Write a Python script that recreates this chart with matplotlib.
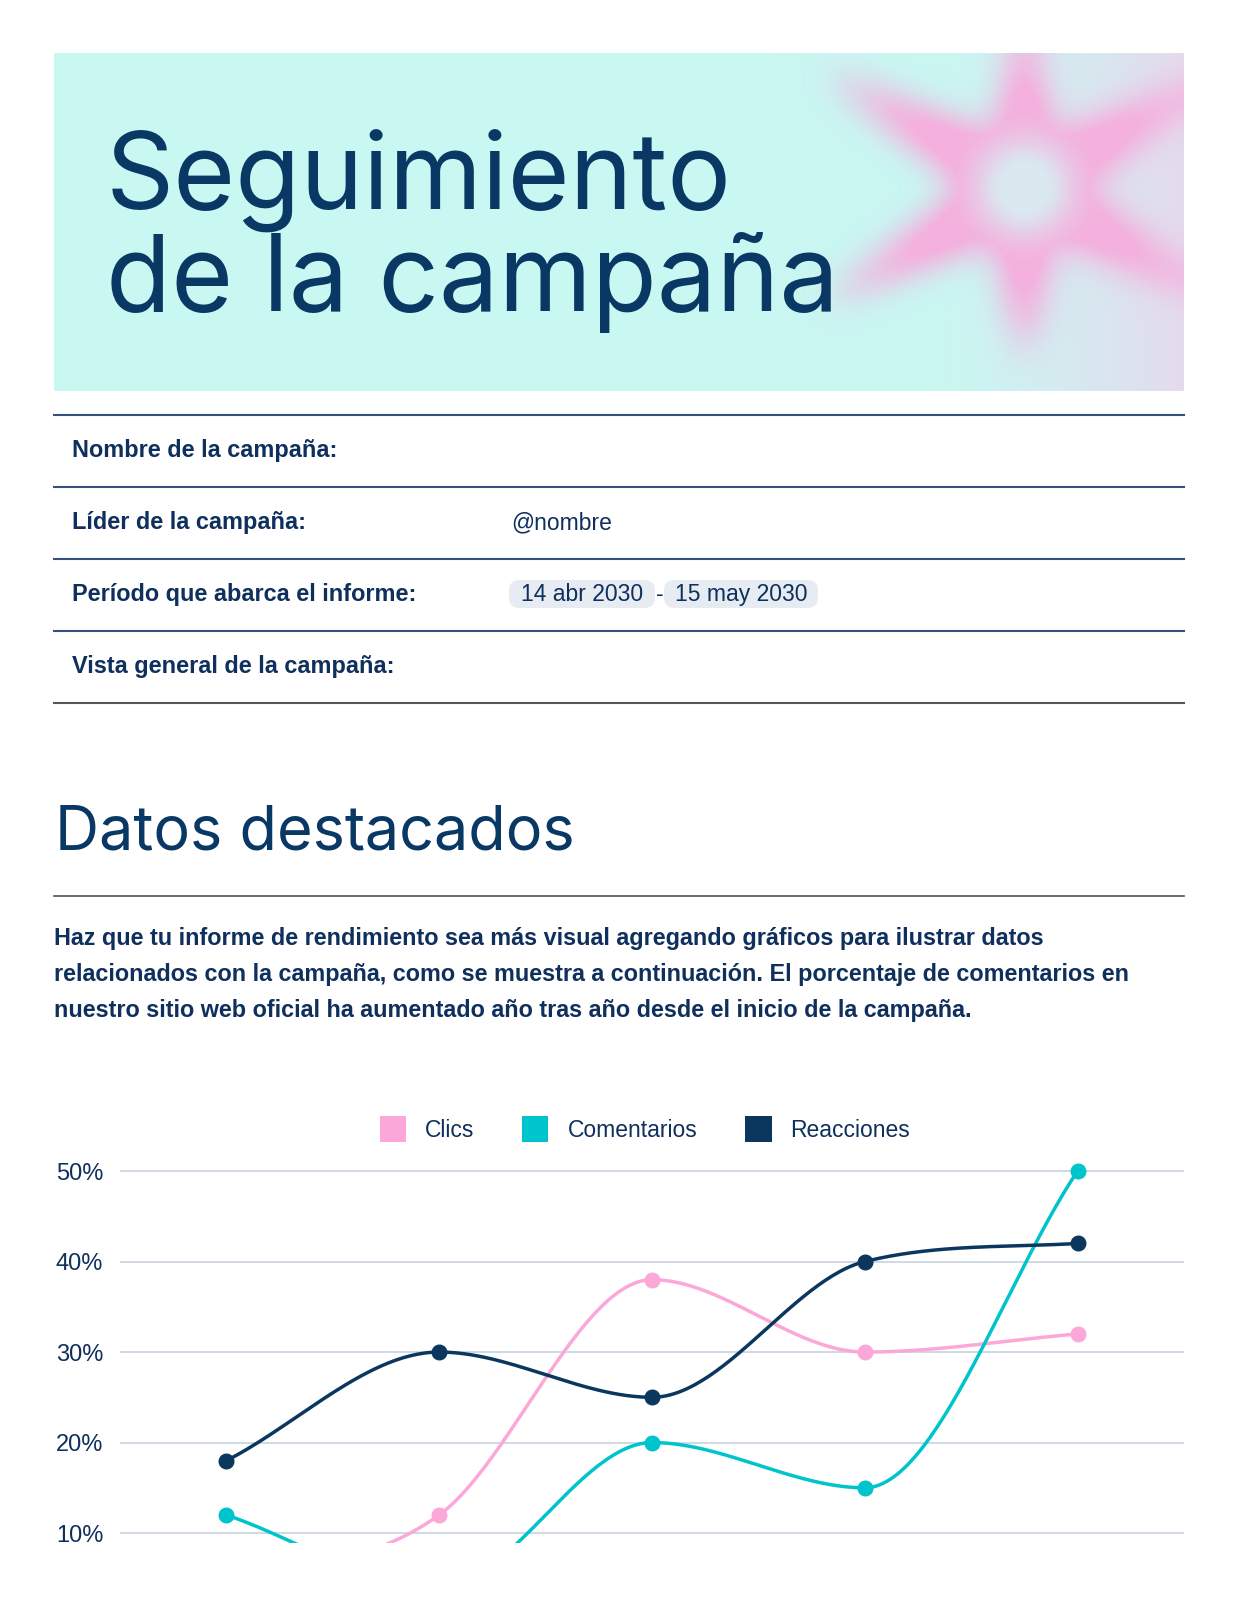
import numpy as np
import matplotlib
matplotlib.use("Agg")
import matplotlib.pyplot as plt
from matplotlib.path import Path
from matplotlib.patches import FancyBboxPatch, Patch
from matplotlib.lines import Line2D

# Datos del gráfico
categorias = [0, 1, 2, 3, 4]
clics = [4, 12, 38, 30, 32]
comentarios = [12, 4, 20, 15, 50]
reacciones = [18, 30, 25, 40, 42]
series_nombres = ["Clics", "Comentarios", "Reacciones"]
y_ticks = [10, 20, 30, 40, 50]
y_tick_labels = ["10%", "20%", "30%", "40%", "50%"]

filas = ["Nombre de la campaña:", "Líder de la campaña:",
         "Período que abarca el informe:", "Vista general de la campaña:"]
lider = "@nombre"
fecha_ini = "14 abr 2030"
fecha_fin = "15 may 2030"
parrafo = [
    "Haz que tu informe de rendimiento sea más visual agregando gráficos para ilustrar datos",
    "relacionados con la campaña, como se muestra a continuación. El porcentaje de comentarios en",
    "nuestro sitio web oficial ha aumentado año tras año desde el inicio de la campaña.",
]

# Colores
NAVY = "#0B375F"
TEXTO = "#0F2F5C"
ROSA = "#FBA8D8"
CIAN = "#00C4CC"
GRID = "#CBD6E2"

W, H = 1237, 1600
fig = plt.figure(figsize=(W / 100, H / 100), dpi=100)
fig.patch.set_facecolor("white")


def fx(px):
    return px / W


def fy(py):
    return 1 - py / H


# --- Cabecera con estrella difuminada ---
bx0, bx1, by0, by1 = 54, 1184, 53, 391
bw, bh = bx1 - bx0, by1 - by0
xx, yy = np.meshgrid(np.arange(bw) + bx0, np.arange(bh) + by0)

cx, cy = 1024, 187
verts = []
for k in range(12):
    ang = np.deg2rad(90 - k * 30)
    if k % 2 == 0:
        r = 175 if k in (0, 6) else 235
    else:
        r = 58
    verts.append((cx + r * np.cos(ang), cy - r * np.sin(ang)))
estrella = Path(verts + [verts[0]])
mask = estrella.contains_points(np.c_[xx.ravel(), yy.ravel()]).reshape(bh, bw).astype(float)
disco = (((xx - cx) ** 2 + (yy - cy) ** 2) < 45 ** 2).astype(float)


def blur(img, sigma):
    k = np.arange(-3 * sigma, 3 * sigma + 1)
    g = np.exp(-k ** 2 / (2 * sigma ** 2))
    g /= g.sum()
    pad = len(k) // 2
    tmp = np.pad(img, ((0, 0), (pad, pad)), mode="edge")
    tmp = np.apply_along_axis(lambda r: np.convolve(r, g, mode="valid"), 1, tmp)
    tmp = np.pad(tmp, ((pad, pad), (0, 0)), mode="edge")
    return np.apply_along_axis(lambda c: np.convolve(c, g, mode="valid"), 0, tmp)


S = np.clip(blur(mask, 17) * 1.45, 0, 1)
C = np.clip(blur(disco, 18) * 1.25, 0, 1)

cian_bg = np.array([201, 247, 242]) / 255
lav_bg = np.array([233, 214, 236]) / 255
rosa_c = np.array([245, 176, 222]) / 255
centro_c = np.array([218, 232, 240]) / 255
w = np.clip((xx - 930) / 254, 0, 1) ** 1.3 * 0.85
img = cian_bg * (1 - w[..., None]) + lav_bg * w[..., None]
img = img * (1 - S[..., None]) + rosa_c * S[..., None]
img = img * (1 - C[..., None]) + centro_c * C[..., None]

ax_b = fig.add_axes([fx(bx0), fy(by1), fx(bw), bh / H])
ax_b.imshow(img, aspect="auto", interpolation="bilinear")
ax_b.axis("off")

TITULO_FONT = ["Inter", "DejaVu Sans"]
fig.text(fx(106), fy(209), "Seguimiento", fontsize=76.5, family=TITULO_FONT,
         color="#0A3864", va="baseline", ha="left")
fig.text(fx(106), fy(311), "de la campaña", fontsize=76.5, family=TITULO_FONT,
         color="#0A3864", va="baseline", ha="left")

# --- Tabla de datos de la campaña ---
CUERPO = ["Liberation Sans", "DejaVu Sans"]
lineas_y = [415, 487, 559, 631, 703]
for i, ly in enumerate(lineas_y):
    col = "#555555" if i == len(lineas_y) - 1 else "#34507F"
    fig.add_artist(Line2D([fx(54), fx(1184)], [fy(ly), fy(ly)], color=col, lw=1.5))

for i, txt in enumerate(filas):
    yc = (lineas_y[i] + lineas_y[i + 1]) / 2
    fig.text(fx(72), fy(yc), txt, fontsize=16.9, family=CUERPO, weight="bold",
             color=TEXTO, va="center", ha="left")

fig.text(fx(511), fy(523), lider, fontsize=16.5, family=CUERPO, color=TEXTO,
         va="center", ha="left")

for (x0, x1), txt in [((509, 655), fecha_ini), ((664, 818), fecha_fin)]:
    pill = FancyBboxPatch((fx(x0), fy(608)), fx(x1 - x0), 28 / H,
                          boxstyle="round,pad=0,rounding_size=0.0085",
                          fc="#E6ECF2", ec="none", transform=fig.transFigure,
                          mutation_aspect=W / H)
    fig.add_artist(pill)
    fig.text(fx((x0 + x1) / 2), fy(595), txt, fontsize=16.5, family=CUERPO,
             color=TEXTO, va="center", ha="center")
fig.text(fx(659.5), fy(595), "-", fontsize=16.5, family=CUERPO, color=TEXTO,
         va="center", ha="center")

# --- Datos destacados ---
fig.text(fx(55), fy(849), "Datos destacados", fontsize=44, family=TITULO_FONT,
         color="#0A3864", va="baseline", ha="left")
fig.add_artist(Line2D([fx(54), fx(1184)], [fy(896), fy(896)], color="#555555", lw=1.2))
for i, linea in enumerate(parrafo):
    fig.text(fx(54), fy(938 + 36 * i), linea, fontsize=16.85, family=CUERPO,
             weight="bold", color=TEXTO, va="center", ha="left")


# --- Gráfico de líneas ---
def monotona(y, n=60):
    y = np.asarray(y, dtype=float)
    d = np.diff(y)
    m = np.zeros(len(y))
    m[0], m[-1] = d[0], d[-1]
    for i in range(1, len(y) - 1):
        if d[i - 1] == 0 or d[i] == 0 or np.sign(d[i - 1]) != np.sign(d[i]):
            m[i] = 0
        else:
            m[i] = (d[i - 1] + d[i]) / 2
    for i in range(len(d)):
        if d[i] == 0:
            m[i] = m[i + 1] = 0
            continue
        a, b = m[i] / d[i], m[i + 1] / d[i]
        s = a * a + b * b
        if s > 9:
            t = 3 / np.sqrt(s)
            m[i], m[i + 1] = t * a * d[i], t * b * d[i]
    xs, ys = [], []
    for i in range(len(d)):
        t = np.linspace(0, 1, n)
        h00 = 2 * t ** 3 - 3 * t ** 2 + 1
        h10 = t ** 3 - 2 * t ** 2 + t
        h01 = -2 * t ** 3 + 3 * t ** 2
        h11 = t ** 3 - t ** 2
        xs.append(i + t)
        ys.append(h00 * y[i] + h10 * m[i] + h01 * y[i + 1] + h11 * m[i + 1])
    return np.concatenate(xs), np.concatenate(ys)


ax_top, ax_bot = 1162, 1543
ax = fig.add_axes([fx(120), fy(ax_bot), fx(1064), (ax_bot - ax_top) / H])
ax.set_xlim(-0.5, 4.5)
ax.set_ylim(8.9, 51)
for serie, color in [(clics, ROSA), (comentarios, CIAN), (reacciones, NAVY)]:
    sx, sy = monotona(serie)
    ax.plot(sx, sy, color=color, lw=2.5, solid_capstyle="round", zorder=3)
    ax.plot(categorias, serie, "o", color=color, ms=10.5, zorder=4)

ax.set_yticks(y_ticks)
ax.set_yticklabels(y_tick_labels, fontsize=17, family=CUERPO, color=TEXTO)
ax.tick_params(axis="y", length=0, pad=12)
ax.set_xticks([])
ax.grid(axis="y", color=GRID, lw=1.3)
ax.set_axisbelow(True)
for sp in ax.spines.values():
    sp.set_visible(False)
for lab in ax.get_yticklabels():
    lab.set_horizontalalignment("right")

handles = [Patch(fc=c, ec="none") for c in (ROSA, CIAN, NAVY)]
fig.legend(handles, series_nombres, loc="center", bbox_to_anchor=(fx(645), fy(1129)),
           ncol=3, frameon=False, handlelength=1.14, handleheight=1.35,
           handletextpad=0.83, columnspacing=2.1, borderpad=0,
           prop={"family": CUERPO, "size": 16.5}, labelcolor=TEXTO)

fig.savefig("out.png", dpi=100)
